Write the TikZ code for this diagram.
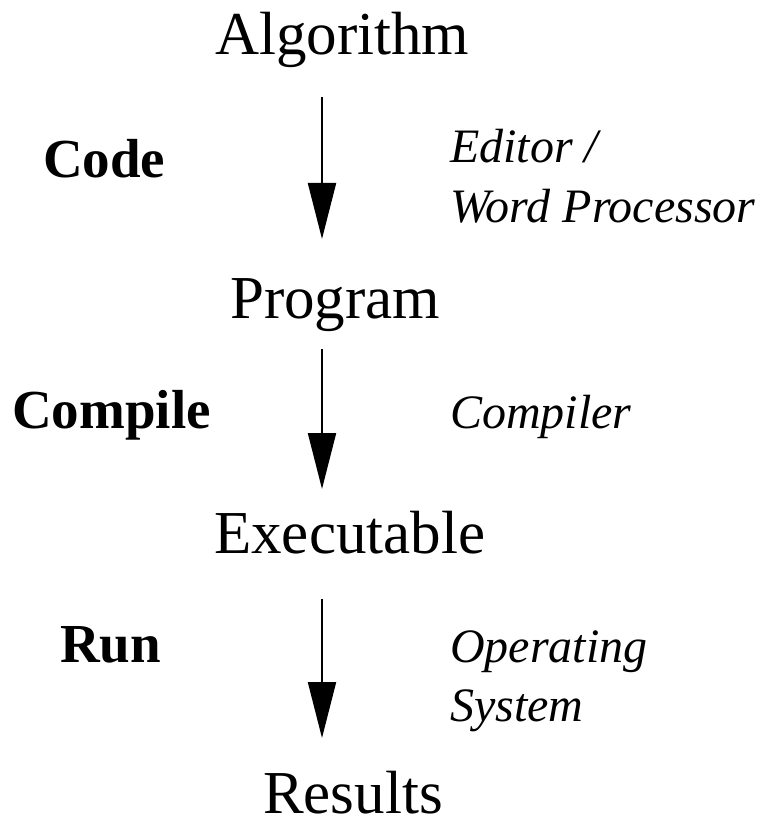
\documentclass[tikz,border=0pt]{standalone}
\usepackage{fontspec}
\setmainfont{Liberation Serif}
\usetikzlibrary{arrows.meta}

\tikzset{
  stage/.style={anchor=base west,inner sep=0pt,text depth=0pt,font=\fontsize{61}{61}\selectfont},
  act/.style={anchor=base west,inner sep=0pt,font=\fontsize{55}{55}\selectfont\bfseries},
  tool/.style={anchor=base west,inner sep=0pt,align=left,font=\fontsize{48}{59}\selectfont\itshape},
  flow/.style={line width=2pt,-{Triangle[length=56pt,width=28pt]}}
}

\begin{document}
\begin{tikzpicture}[x=1pt,y=1pt,yscale=-1,xscale=1]
%set diagram left start at 0, and has height of 821
\path[use as bounding box] (0,0) rectangle (778,821);

% Text Node
\node[stage] (alg) at (215,55) {Algorithm};
% Text Node
\node[stage] (prog) at (230,318) {Program};
% Text Node
\node[stage] (exe) at (214,553) {Executable};
% Text Node
\node[stage] (res) at (263,813) {Results};

% Text Node
\node[act] (code) at (43,178) {Code};
% Text Node
\node[act] (comp) at (12,428) {Compile};
% Text Node
\node[act] (run) at (60,662) {Run};

% Text Node (base is on the last line)
\node[tool] (edit) at (450,222) {Editor /\\Word Processor};
% Text Node
\node[tool] (cmplr) at (450,428) {Compiler};
% Text Node
\node[tool] (os) at (450,721) {Operating\\System};

% Arrow ends
\coordinate (a1s) at (322,97);
\coordinate (a1e) at (322,239);
\coordinate (a2s) at (322,349);
\coordinate (a2e) at (322,489);
\coordinate (a3s) at (322,599);
\coordinate (a3e) at (322,738);

%Straight Lines
\draw[flow] (a1s) -- (a1e);
\draw[flow] (a2s) -- (a2e);
\draw[flow] (a3s) -- (a3e);

\end{tikzpicture}
\end{document}
